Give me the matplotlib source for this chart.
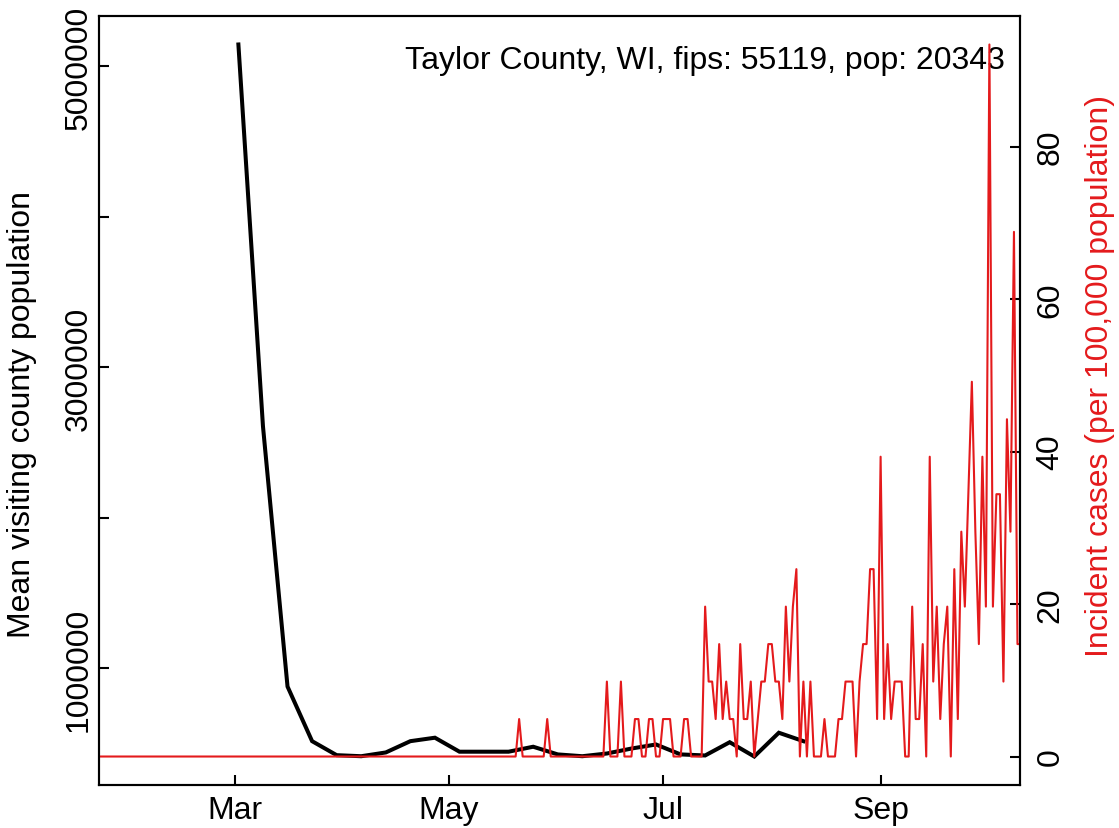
import numpy as np
import pandas as pd
import matplotlib
matplotlib.use("Agg")
import matplotlib.pyplot as plt
import matplotlib.dates as mdates

plt.rcParams['font.family'] = ['Liberation Sans', 'DejaVu Sans']

county_label = "Taylor County, WI, fips: 55119, pop: 20343"
county_pop = 20343

# weekly mean visiting county population, weeks starting 2020-03-02
visit_start = "2020-03-02"
visit_pop = [5146000, 2610000, 880000, 517000, 424000, 417000, 442000, 517000,
             540000, 447000, 447000, 447000, 480000, 429000, 417000, 435000,
             468000, 495000, 429000, 422000, 510000, 415000, 573000, 517000]

# daily new cases, starting 2020-01-22 (nothing until late May)
case_start = "2020-01-22"
cases = [0] * 120 + [
    1, 0, 0, 0, 0, 0, 0, 0, 1, 0,            # May 21 -
    0, 0, 0, 0, 0, 0, 0, 0, 0, 0,
    0, 0, 0, 0, 0, 2, 0, 0, 0, 2,            # Jun 15 / Jun 19
    0, 0, 0, 1, 1, 0, 0, 1, 1, 0,
    0, 1, 1, 1, 0, 0, 0, 1, 1, 0,
    0, 0, 0, 4, 2, 2, 1, 3, 1, 2,            # Jul 13 -
    1, 1, 0, 3, 1, 1, 2, 0, 1, 2,
    2, 3, 3, 2, 2, 1, 4, 2, 4, 5,
    0, 2, 0, 2, 0, 0, 0, 1, 0, 0,            # Aug 9 -
    0, 1, 1, 2, 2, 2, 0, 2, 3, 3,
    5, 5, 1, 8, 1, 3, 1, 2, 2, 2,            # Aug 29 -
    0, 0, 4, 1, 1, 3, 0, 8, 2, 4,
    1, 3, 4, 0, 5, 1, 6, 4, 7, 10,           # Sep 18 -
    6, 3, 8, 4, 19, 4, 7, 7, 2, 9,
    6, 14, 3, 3,
]

month_ticks = ["2020-03-01", "2020-05-01", "2020-07-01", "2020-09-01"]
month_labels = ["Mar", "May", "Jul", "Sep"]
left_ticks = [1000000, 2000000, 3000000, 4000000, 5000000]
left_labels = ["1000000", "", "3000000", "", "5000000"]
right_ticks = [0, 20, 40, 60, 80]

red = "#E41A1C"
fs = 23

visit_dates = pd.date_range(visit_start, periods=len(visit_pop), freq="7D")
case_dates = pd.date_range(case_start, periods=len(cases), freq="D")
rate = np.array(cases) / county_pop * 1e5

fig = plt.figure(figsize=(11.19, 8.29), dpi=100)
ax = fig.add_axes([99 / 1119, 1 - 786 / 829, 921 / 1119, 769 / 829])
ax2 = ax.twinx()

ax.plot(visit_dates, visit_pop, color="black", lw=2.9, solid_joinstyle="miter")
ax2.plot(case_dates, rate, color=red, lw=1.5)

# R style 4% padding
x0 = mdates.date2num(pd.Timestamp("2020-02-01"))
x1 = mdates.date2num(pd.Timestamp("2020-10-01"))
px = 0.04 * (x1 - x0)
ax.set_xlim(x0 - px, x1 + px)
lo, hi = min(visit_pop), max(visit_pop)
ax.set_ylim(lo - 0.04 * (hi - lo), hi + 0.04 * (hi - lo))
rmax = rate.max()
ax2.set_ylim(-0.04 * rmax, 1.04 * rmax)

ax.set_xticks([mdates.date2num(pd.Timestamp(d)) for d in month_ticks])
ax.set_xticklabels(month_labels)
ax.set_yticks(left_ticks)
ax.set_yticklabels(left_labels, rotation=90, va="center")
ax2.set_yticks(right_ticks)
ax2.set_yticklabels([str(t) for t in right_ticks], rotation=90, va="center")

for a in (ax, ax2):
    a.tick_params(direction="in", length=7, width=1.5, labelsize=fs)
    for s in a.spines.values():
        s.set_linewidth(1.5)
ax.tick_params(axis="x", pad=7)
ax.tick_params(axis="y", pad=4)
ax2.tick_params(axis="y", pad=11)

fig.text(22 / 1119, 1 - 415 / 829, "Mean visiting county population", fontsize=fs,
         rotation=90, ha="center", va="center")
fig.text(1100 / 1119, 1 - 376 / 829, "Incident cases (per 100,000 population)", fontsize=fs,
         color=red, rotation=90, ha="center", va="center")

ax.text(0.9837, 0.9428, county_label, transform=ax.transAxes, ha="right", va="center",
        fontsize=fs)

fig.savefig("out.png", dpi=100)
